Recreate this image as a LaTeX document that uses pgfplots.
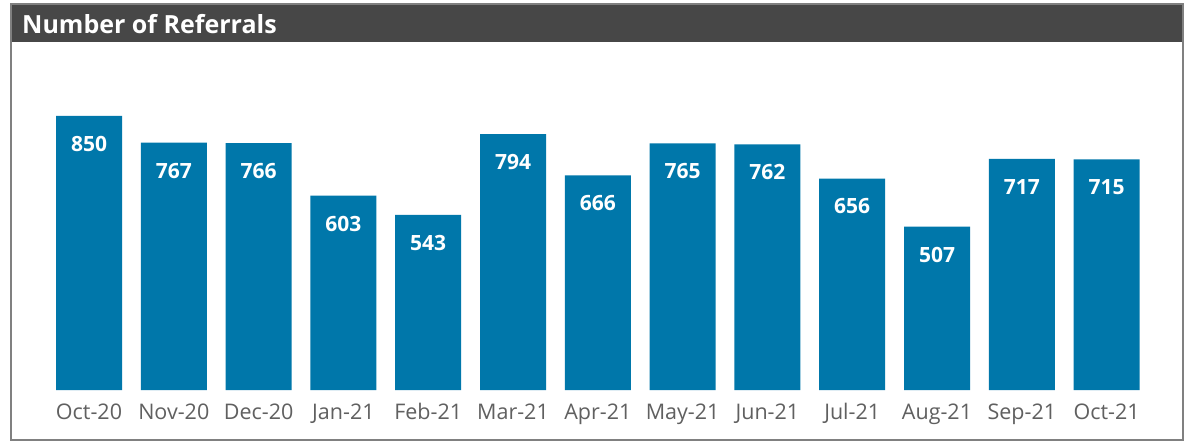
\documentclass[border=0pt]{standalone}
\usepackage{pgfplots}
\pgfplotsset{compat=1.18}
\usepackage{fontspec}
\setmainfont{Open Sans}
\definecolor{barblue}{RGB}{0,119,170}
\definecolor{titlebar}{RGB}{71,71,71}
\definecolor{ticktext}{RGB}{96,96,96}
\definecolor{framegray}{RGB}{128,128,128}
\begin{document}
\begin{tikzpicture}[x=1pt,y=1pt]
\path[use as bounding box] (0,0) rectangle (1190,445);
\fill[white] (0,0) rectangle (1190,445);
\fill[titlebar] (11,403) rectangle (1183,441);
\draw[framegray,line width=1.5pt] (11,5) rectangle (1183,441);
\node[anchor=base west,inner sep=0pt,text=white,font=\fontsize{25}{30}\selectfont\bfseries] at (22,411) {Number of Referrals};
\begin{axis}[
  at={(46.6pt,55pt)}, anchor=south west,
  scale only axis, width=1102.4pt, height=322.4pt,
  xmin=-0.5, xmax=12.5, ymin=0, ymax=1000,
  axis lines=none,
  ybar, bar width=66pt,
  /pgf/number format/assume math mode=true,
  nodes near coords,
  every node near coord/.append style={anchor=center, yshift=-28pt, text=white, font=\fontsize{21}{25}\selectfont\bfseries},
  clip=false,
]
\addplot[fill=barblue, draw=none] coordinates {
(0,850) (1,767) (2,766) (3,603) (4,543) (5,794) (6,666) (7,765) (8,762) (9,656) (10,507) (11,717) (12,715)
};
\end{axis}
\begin{axis}[
  at={(46.6pt,55pt)}, anchor=south west,
  scale only axis, width=1102.4pt, height=322.4pt,
  xmin=-0.5, xmax=12.5, ymin=0, ymax=1000,
  axis x line*=bottom, axis y line=none,
  x axis line style={draw=none},
  xtick={0,...,12}, major tick length=0pt,
  xticklabels={Oct-20,Nov-20,Dec-20,Jan-21,Feb-21,Mar-21,Apr-21,May-21,Jun-21,Jul-21,Aug-21,Sep-21,Oct-21},
  xticklabel style={text=ticktext, font=\fontsize{21.5}{25}\selectfont, yshift=-10pt},
]
\end{axis}
\end{tikzpicture}
\end{document}
